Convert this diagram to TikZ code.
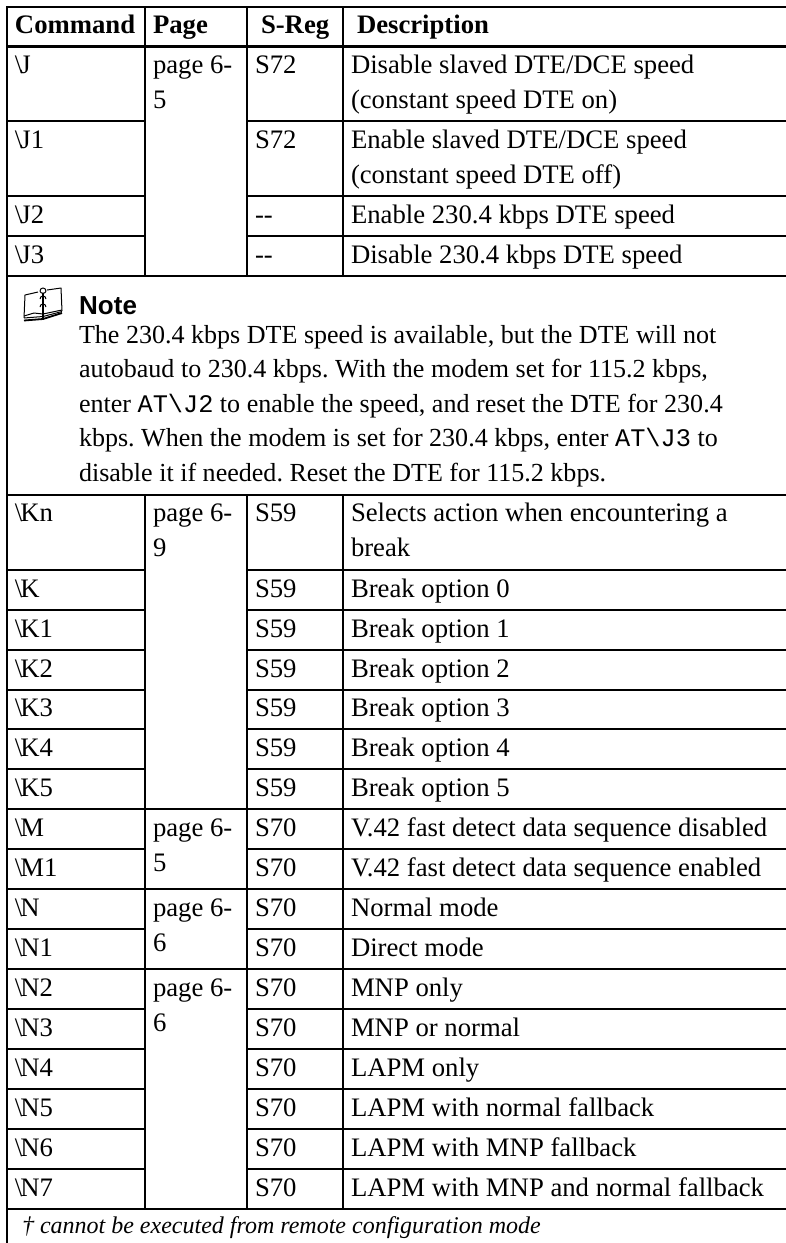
\documentclass[tikz,border=0pt]{standalone}
\usepackage{fontspec}
\setmainfont{Liberation Serif}
\setsansfont{Liberation Sans}
\setmonofont{Liberation Mono}
\frenchspacing
\newcommand{\bsl}{\textbackslash\kern-2pt}
\tikzset{
  txt/.style={anchor=base west,inner sep=0pt,outer sep=0pt,yshift=-1pt,font=\fontsize{26.7}{30}\selectfont},
  hdr/.style={txt,font=\fontsize{26.7}{30}\selectfont\bfseries},
  notetxt/.style={txt,font=\fontsize{26.05}{30}\selectfont},
  rule/.style={line width=2pt,black},
  hrule/.style={line width=2.4pt,black},
}
\newcommand{\rowtxt}[5]{%
  \node[txt] (c#1) at (15,#2) {#3};
  \node[txt] (s#1) at (255,#2) {#4};
  \node[txt] (d#1) at (351,#2) {#5};
}
\newcommand{\mono}[1]{{\ttfamily\fontsize{25.3}{30}\selectfont #1}}
\begin{document}
\begin{tikzpicture}[x=1pt,y=-1pt]
\useasboundingbox (0,0) rectangle (786,1243);
% horizontal rules
\draw[hrule] (6,7) -- (786,7);
\draw[line width=3pt] (6,46) -- (786,46);
\foreach \y in {121,196,236}{\draw[rule] (7,\y) -- (145,\y); \draw[rule] (247,\y) -- (786,\y);}
\foreach \y in {276,495}{\draw[rule] (7,\y) -- (786,\y);}
\draw[hrule] (7,1209) -- (786,1209);
\foreach \y in {570,610,650,690,729,769,849,929,1009,1049,1089,1129,1169}{\draw[rule] (7,\y) -- (145,\y); \draw[rule] (247,\y) -- (786,\y);}
\foreach \y in {809,889,969}{\draw[rule] (7,\y) -- (786,\y);}
% vertical rules
\draw[rule] (7,6) -- (7,1243);
\foreach \x in {145,247,343}{\draw[rule] (\x,7) -- (\x,276); \draw[rule] (\x,495) -- (\x,1209);}
% header
\node[hdr] (h1) at (15,32) {Command};
\node[hdr] (h2) at (153,32) {Page};
\node[hdr] (h3) at (261,32) {S-Reg};
\node[hdr] (h4) at (357,32) {Description};
% rows
\rowtxt{J}{72}{\bsl J}{S72}{Disable slaved DTE/DCE speed}
\node[txt] (d2J) at (351,107) {(constant speed DTE on)};
\rowtxt{Ja}{147}{\bsl J1}{S72}{Enable slaved DTE/DCE speed}
\node[txt] (d2Ja) at (351,182) {(constant speed DTE off)};
\rowtxt{Jb}{222}{\bsl J2}{-{}-}{Enable 230.4 kbps DTE speed}
\rowtxt{Jc}{262}{\bsl J3}{-{}-}{Disable 230.4 kbps DTE speed}
\node[txt] (p1) at (153,72) {page 6-};
\node[txt] (p1b) at (153,107) {5};
% note
\node[anchor=base west,inner sep=0pt,yshift=-1pt,font=\fontsize{26}{30}\selectfont\sffamily\bfseries] (nt) at (79,313) {Note};
\node[notetxt] (n1) at (79,342) {The 230.4 kbps DTE speed is available, but the DTE will not};
\node[notetxt] (n2) at (79,376) {autobaud to 230.4 kbps. With the modem set for 115.2 kbps,};
\node[notetxt] (n3) at (79,411) {enter \mono{AT\textbackslash J2} to enable the speed, and reset the DTE for 230.4};
\node[notetxt] (n4) at (79,445) {kbps. When the modem is set for 230.4 kbps, enter \mono{AT\textbackslash J3} to};
\node[notetxt] (n5) at (79,480) {disable it if needed. Reset the DTE for 115.2 kbps.};
% book icon
\begin{scope}[line width=1pt,line join=round]
\draw (24,318) -- (25,295) -- (38,292);
\draw (47,290) -- (61,288) -- (62,311);
\draw (24,316) -- (34,313) -- (43,314) -- (62,310);
\draw[line width=1.8pt] (24,320.5) -- (43,319) -- (62,313);
\draw (24,318) -- (43,316.5) -- (62,311.5);
\draw[line width=1.3pt] (43,293) -- (43,320);
\draw (40,291) .. controls (40,287) and (46,287) .. (46,291) .. controls (46,294) and (40,294) .. (40,291);
\draw (40,299) .. controls (40,295) and (46,295) .. (46,299);
\draw (40,307) .. controls (40,303) and (46,303) .. (46,307);
\end{scope}
% K
\rowtxt{Kn}{520}{\bsl Kn}{S59}{Selects action when encountering a}
\node[txt] (d2Kn) at (351,555) {break};
\node[txt] (p2) at (153,520) {page 6-};
\node[txt] (p2b) at (153,555) {9};
\rowtxt{K}{596}{\bsl K}{S59}{Break option 0}
\rowtxt{Ka}{636}{\bsl K1}{S59}{Break option 1}
\rowtxt{Kb}{676}{\bsl K2}{S59}{Break option 2}
\rowtxt{Kc}{715}{\bsl K3}{S59}{Break option 3}
\rowtxt{Kd}{755}{\bsl K4}{S59}{Break option 4}
\rowtxt{Ke}{795}{\bsl K5}{S59}{Break option 5}
\rowtxt{M}{835}{\bsl M}{S70}{V.42 fast detect data sequence disabled}
\rowtxt{Ma}{875}{\bsl M1}{S70}{V.42 fast detect data sequence enabled}
\node[txt] (p3) at (153,835) {page 6-};
\node[txt] (p3b) at (153,870) {5};
\rowtxt{N}{915}{\bsl N}{S70}{Normal mode}
\rowtxt{Na}{955}{\bsl N1}{S70}{Direct mode}
\node[txt] (p4) at (153,915) {page 6-};
\node[txt] (p4b) at (153,950) {6};
\rowtxt{Nb}{995}{\bsl N2}{S70}{MNP only}
\rowtxt{Nc}{1035}{\bsl N3}{S70}{MNP or normal}
\rowtxt{Nd}{1075}{\bsl N4}{S70}{LAPM only}
\rowtxt{Ne}{1115}{\bsl N5}{S70}{LAPM with normal fallback}
\rowtxt{Nf}{1155}{\bsl N6}{S70}{LAPM with MNP fallback}
\rowtxt{Ng}{1195}{\bsl N7}{S70}{LAPM with MNP and normal fallback}
\node[txt] (p5) at (153,995) {page 6-};
\node[txt] (p5b) at (153,1030) {6};
\node[txt,font=\fontsize{24}{28}\selectfont\itshape] (foot) at (22,1232) {† cannot be executed from remote configuration mode};
\end{tikzpicture}
\end{document}
